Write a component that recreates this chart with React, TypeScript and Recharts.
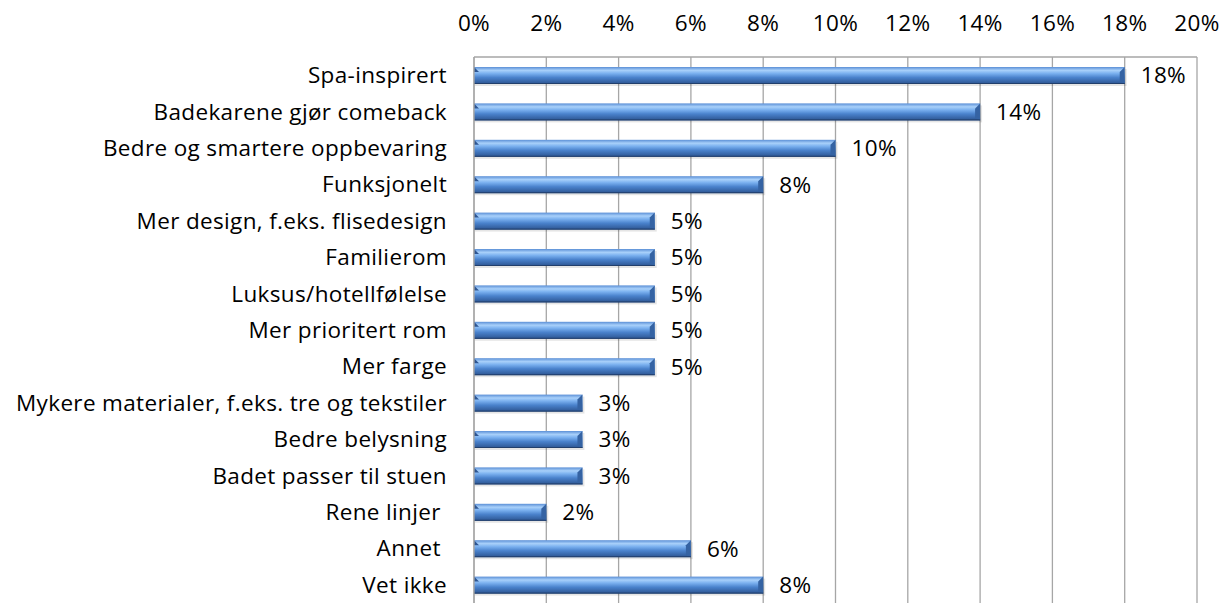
import React from "react";
import { BarChart, Bar, XAxis, YAxis, CartesianGrid, LabelList } from "recharts";

const categories = [
  "Spa-inspirert",
  "Badekarene gjør comeback",
  "Bedre og smartere oppbevaring",
  "Funksjonelt",
  "Mer design, f.eks. flisedesign",
  "Familierom",
  "Luksus/hotellfølelse",
  "Mer prioritert rom",
  "Mer farge",
  "Mykere materialer, f.eks. tre og tekstiler",
  "Bedre belysning",
  "Badet passer til stuen",
  "Rene linjer\u00A0",
  "Annet\u00A0",
  "Vet ikke",
];
const values = [18, 14, 10, 8, 5, 5, 5, 5, 5, 3, 3, 3, 2, 6, 8];
const xTicks = [0, 2, 4, 6, 8, 10, 12, 14, 16, 18, 20];

const data = categories.map((c, i) => ({ name: c, value: values[i] }));

const FONT = "'Open Sans', 'DejaVu Sans', sans-serif";
const FS = 22.5;
const LS = 0.35;

const BarShape = (props: any) => {
  const { x, y, width, height } = props;
  if (!width || width <= 0) return null;
  const b = Math.min(5, height / 3);
  return (
    <g>
      <rect x={x + 1} y={y + 2} width={width + 1} height={height} fill="#000" opacity={0.1} />
      <rect x={x} y={y} width={width} height={height} fill="url(#barGrad)" />
      <polygon
        points={`${x},${y} ${x + b},${y + b} ${x},${y + b}`}
        fill="#2d5592"
      />
      <polygon
        points={`${x + width - b},${y + b} ${x + width},${y} ${x + width},${y + height} ${x + width - b},${y + height - b / 2}`}
        fill="#3563a3"
      />
      <rect x={x} y={y + height - 1} width={width} height={1} fill="#223f6b" />
    </g>
  );
};

export default function App() {
  return (
    <div style={{ position: "absolute", left: 0, top: 0, width: 1230, height: 603, background: "#fff", overflow: "hidden" }}>
      <BarChart
        width={1230}
        height={603}
        data={data}
        layout="vertical"
        margin={{ top: 0, right: 33, bottom: 0, left: 0 }}
        barSize={17}
      >
        <defs>
          <linearGradient id="barGrad" x1="0" y1="0" x2="0" y2="1">
            <stop offset="0" stopColor="#5b8fd6" />
            <stop offset="0.2" stopColor="#a8d0fa" />
            <stop offset="0.38" stopColor="#7ab0ef" />
            <stop offset="0.62" stopColor="#4a82cc" />
            <stop offset="1" stopColor="#2c5490" />
          </linearGradient>
        </defs>
        <CartesianGrid horizontal={false} vertical stroke="#a6a6a6" strokeWidth={1.3} />
        <XAxis
          type="number"
          orientation="top"
          domain={[0, 20]}
          ticks={xTicks}
          interval={0}
          height={57}
          tickSize={0}
          tickMargin={26}
          tickFormatter={(v: number) => `${v}%`}
          axisLine={{ stroke: "#a6a6a6", strokeWidth: 1.3 }}
          tickLine={false}
          tick={{ fill: "#000", fontSize: FS, fontFamily: FONT, letterSpacing: LS }}
        />
        <YAxis
          type="category"
          dataKey="name"
          width={474}
          interval={0}
          tickSize={0}
          tickMargin={27}
          axisLine={{ stroke: "#a6a6a6", strokeWidth: 1.3 }}
          tickLine={false}
          tick={{ fill: "#000", fontSize: FS, fontFamily: FONT, letterSpacing: LS }}
        />
        <Bar dataKey="value" shape={<BarShape />} isAnimationActive={false}>
          <LabelList
            dataKey="value"
            position="right"
            offset={16}
            formatter={(v: number) => `${v}%`}
            style={{ fill: "#000", fontSize: FS, fontFamily: FONT, letterSpacing: LS }}
          />
        </Bar>
      </BarChart>
    </div>
  );
}
